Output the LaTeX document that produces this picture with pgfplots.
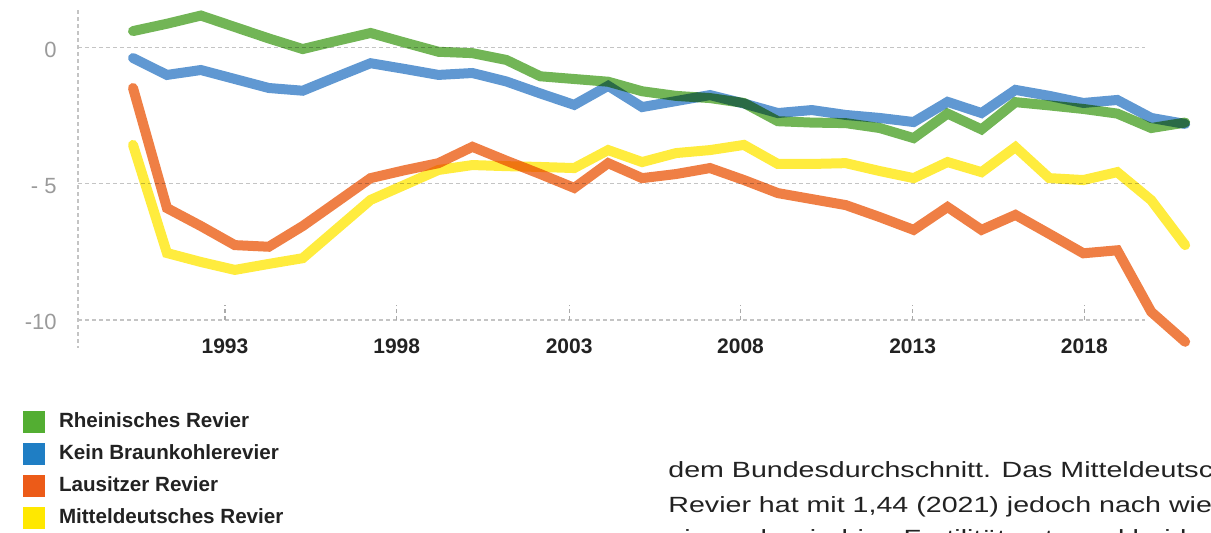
\documentclass[border=0pt]{standalone}
\usepackage{fontspec}
\setmainfont{Liberation Sans}
\newfontfamily\bodyfont[FakeStretch=1.3]{Liberation Sans}
\usepackage{pgfplots}
\usepackage{pgfplotstable}
\pgfplotsset{compat=1.18}
\definecolor{cgreen}{HTML}{53AE32}
\definecolor{cblue}{HTML}{1F7EC4}
\definecolor{corange}{HTML}{EC5B18}
\definecolor{cyellow}{HTML}{FFE800}
\definecolor{lgreen}{HTML}{72B556}
\definecolor{lblue}{HTML}{6098D2}
\definecolor{lorange}{HTML}{EF7F45}
\definecolor{lyellow}{HTML}{FFEC3E}
\definecolor{cgrid}{HTML}{C4C4C4}
\definecolor{ctick}{HTML}{AAAAAA}
\definecolor{ctext}{HTML}{222222}
\definecolor{cylab}{HTML}{9A9A9A}

\pgfplotstableread{
year green blue orange yellow
1990  0.61 -0.38 -1.48 -3.57
1991  0.88 -1.00 -5.89 -7.54
1992  1.18 -0.82 -6.55 -7.87
1993  0.76 -1.15 -7.25 -8.16
1994  0.34 -1.48 -7.31 -7.94
1995 -0.05 -1.58 -6.55 -7.73
1996  0.25 -1.07 -5.67 -6.66
1997  0.54 -0.57 -4.79 -5.59
1998  0.19 -0.78 -4.50 -5.04
1999 -0.15 -1.00 -4.24 -4.49
2000 -0.20 -0.93 -3.64 -4.31
2001 -0.45 -1.24 -4.15 -4.35
2002 -1.05 -1.68 -4.64 -4.38
2003 -1.15 -2.10 -5.15 -4.42
2004 -1.25 -1.40 -4.24 -3.76
2005 -1.60 -2.18 -4.79 -4.20
2006 -1.77 -1.96 -4.64 -3.87
2007 -1.85 -1.74 -4.42 -3.76
2008 -2.03 -2.05 -4.86 -3.57
2009 -2.70 -2.40 -5.34 -4.27
2010 -2.75 -2.29 -5.56 -4.27
2011 -2.77 -2.47 -5.78 -4.24
2012 -2.95 -2.58 -6.22 -4.53
2013 -3.32 -2.73 -6.69 -4.79
2014 -2.42 -1.99 -5.85 -4.20
2015 -3.00 -2.40 -6.69 -4.57
2016 -2.00 -1.55 -6.14 -3.65
2017 -2.12 -1.77 -6.84 -4.79
2018 -2.25 -2.03 -7.55 -4.86
2019 -2.42 -1.92 -7.44 -4.57
2020 -2.95 -2.58 -9.70 -5.60
2021 -2.75 -2.80 -10.80 -7.25
}\datatable

\begin{document}
\begin{tikzpicture}
\useasboundingbox (0,0) rectangle (605.5pt,266pt);
\begin{axis}[
  at={(39pt,106pt)}, anchor=south west,
  scale only axis, width=533.5pt, height=155pt,
  xmin=1988.379, xmax=2019.817, ymin=-10, ymax=1.384,
  clip=false,
  axis line style={draw=none},
  xtick={1992.71,1997.77,2002.85,2007.90,2012.97,2018.03},
  xticklabels={1993,1998,2003,2008,2013,2018},
  xtick pos=lower, ytick pos=left,
  tick align=inside,
  major tick length=7.5pt,
  xtick style={draw=ctick, dash pattern=on 2pt off 1.5pt, line width=0.6pt},
  ytick style={draw=none},
  ytick={-10,-5,0}, yticklabels={-10,- 5,0},
  ymajorgrids,
  major grid style={draw=cgrid, dash pattern=on 2pt off 1.5pt, line width=0.6pt},
  xticklabel style={font=\bfseries\fontsize{10.5}{12}\selectfont, text=ctext, anchor=base, yshift=-16.5pt},
  yticklabel style={font=\fontsize{11}{13}\selectfont, text=cylab, anchor=east, inner sep=0pt, xshift=-10.5pt, yshift=-1pt},
  legend style={at={(axis description cs:-0.05155,-0.29355)}, anchor=north west,
    draw=none, fill=none, inner sep=0pt, outer sep=0pt, row sep=5pt,
    font=\bfseries\fontsize{10.3}{12}\selectfont, text=ctext,
    nodes={inner sep=0pt, outer sep=0pt}},
  legend cell align=left,
  legend image code/.code={\fill[#1, draw=none, line width=0pt, opacity=1, blend mode=normal] (0pt,-5.5pt) rectangle (11pt,5.5pt); \path[line width=0pt] (18pt,0pt);},
  every axis plot/.append style={line width=5pt, line cap=round, line join=miter, blend mode=multiply},
]
\draw[draw=cgrid, dash pattern=on 2pt off 1.5pt, line width=0.6pt] (rel axis cs:0,1) -- (rel axis cs:0,-0.0903);
\addplot[lgreen, forget plot] table[x=year, y=green] {\datatable};
\addplot[lblue, forget plot] table[x=year, y=blue] {\datatable};
\addplot[lorange, forget plot] table[x=year, y=orange] {\datatable};
\addplot[lyellow, forget plot] table[x=year, y=yellow] {\datatable};
\addlegendimage{fill=cgreen}
\addlegendentry{Rheinisches Revier}
\addlegendimage{fill=cblue}
\addlegendentry{Kein Braunkohlerevier}
\addlegendimage{fill=corange}
\addlegendentry{Lausitzer Revier}
\addlegendimage{fill=cyellow}
\addlegendentry{Mitteldeutsches Revier}
\end{axis}
\begin{scope}[every node/.style={anchor=base west, inner sep=0pt, text=ctext, font=\bodyfont\fontsize{11}{13}\selectfont}]
\node at (334pt,27.5pt) {dem Bundesdurchschnitt. Das Mitteldeutsche};
\node at (334pt,10pt) {Revier hat mit 1,44 (2021) jedoch nach wie vor};
\node at (334pt,-6.5pt) {eine sehr niedrige Fertilitätsrate und beide Reviere};
\end{scope}
\end{tikzpicture}
\end{document}
